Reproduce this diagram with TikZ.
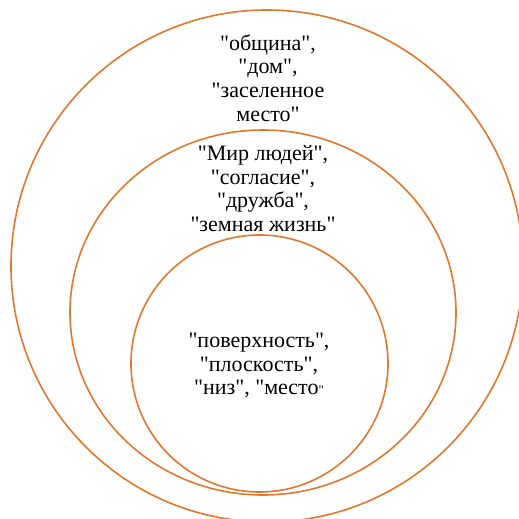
\documentclass[tikz,border=0pt]{standalone}
\usepackage{fontspec}
\setmainfont{Liberation Serif}[Ligatures=TeXOff]
\definecolor{ringcol}{HTML}{E0772F}
\tikzset{
  ring/.style={draw=ringcol, line width=1.6pt},
  words/.style={align=center, inner sep=0pt, font=\fontsize{22}{23.7}\selectfont}
}
\begin{document}
\begin{tikzpicture}[x=1pt,y=-1pt]
  \useasboundingbox (0,0) rectangle (519,519);
  % rings
  \draw[ring] (267,266) circle [radius=256];
  \draw[ring] (263,312.5) ellipse [x radius=193, y radius=182.5];
  \draw[ring] (259.5,363.5) circle [radius=128.5];
  % texts
  \node[words] (outer) at (268,78) {"община",\\"дом",\\"заселенное\\место"};
  \node[words] (middle) at (263,188.5) {"Мир людей",\\"согласие",\\"дружба",\\"земная жизнь"};
  \node[words] (inner) at (259,365.5) {"поверхность",\\"плоскость",\\"низ", "место{\fontsize{13}{13}\selectfont"}};
\end{tikzpicture}
\end{document}
